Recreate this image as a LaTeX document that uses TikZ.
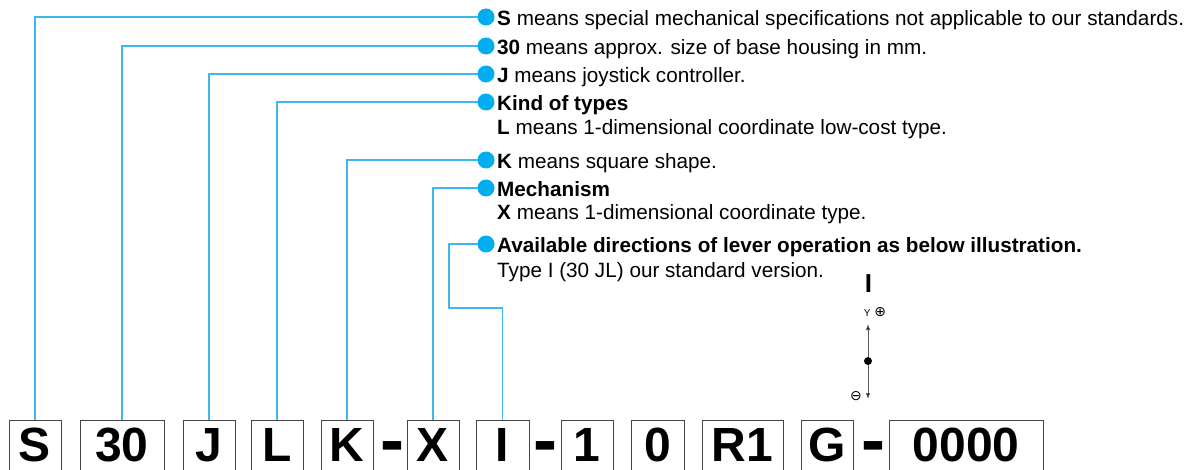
\documentclass[tikz,border=0pt]{standalone}
\usepackage{fontspec}
\setmainfont{Liberation Sans}
\newfontfamily\symfont{DejaVu Sans}
\usetikzlibrary{arrows.meta}
\definecolor{dotblue}{HTML}{00AEEF}
\definecolor{lineblue}{HTML}{3DB7EE}
\definecolor{boxgray}{HTML}{444444}
\begin{document}
\begin{tikzpicture}[x=1pt,y=-1pt,
  codebox/.style={draw=boxgray, line width=0.9pt, minimum height=50pt, inner sep=0pt, anchor=north,
    font=\fontsize{48}{50}\selectfont\bfseries},
  dashtxt/.style={inner sep=0pt, anchor=base, font=\fontsize{72}{74}\selectfont\bfseries},
  dot/.style={circle, fill=dotblue, minimum size=17pt, inner sep=0pt},
  conn/.style={draw=lineblue, line width=1.2pt},
  txt/.style={anchor=base west, inner sep=0pt, font=\fontsize{20.7}{23}\selectfont},
  axis/.style={draw=black!65, line width=0.8pt, -{Latex[length=6pt,width=4.5pt,fill=black]}}
]
\useasboundingbox (0,0) rectangle (1190,470);
\clip (0,-2) rectangle (1190,469.4);

% code boxes
\node[codebox, minimum width=52pt] (bS) at (35,420) {S};
\node[codebox, minimum width=84pt] (b30) at (122,420) {30};
\node[codebox, minimum width=52pt] (bJ) at (209,420) {J};
\node[codebox, minimum width=52pt] (bL) at (277,420) {L};
\node[codebox, minimum width=52pt] (bK) at (347,420) {K};
\node[dashtxt] (h1) at (392,464) {-};
\node[codebox, minimum width=52pt] (bX) at (433,420) {X};
\node[codebox, minimum width=53pt] (bI) at (502.5,420) {I};
\node[dashtxt] (h2) at (545,464) {-};
\node[codebox, minimum width=52pt] (b1) at (587,420) {1};
\node[codebox, minimum width=53pt] (b0) at (657.5,420) {0};
\node[codebox, minimum width=81pt] (bR) at (742.5,420) {R1};
\node[codebox, minimum width=52pt] (bG) at (827,420) {G};
\node[dashtxt] (h3) at (873,464) {-};
\node[codebox, minimum width=154pt] (b4) at (966,420) {0000};

% dot positions
\coordinate (dSc) at (486,17);
\coordinate (d30c) at (486,46);
\coordinate (dJc) at (486,74);
\coordinate (dLc) at (486,102);
\coordinate (dKc) at (486,160);
\coordinate (dXc) at (486,188);
\coordinate (dAc) at (486,244);
\coordinate (iturn) at (449,308);

% connectors
\draw[conn] (bS.north) |- (dSc);
\draw[conn] (b30.north) |- (d30c);
\draw[conn] (bJ.north) |- (dJc);
\draw[conn] (bL.north) |- (dLc);
\draw[conn] (bK.north) |- (dKc);
\draw[conn] (bX.north) |- (dXc);
\draw[conn] (bI.north) |- (iturn) |- (dAc);

\node[dot] (dS) at (dSc) {};
\node[dot] (d30) at (d30c) {};
\node[dot] (dJ) at (dJc) {};
\node[dot] (dL) at (dLc) {};
\node[dot] (dK) at (dKc) {};
\node[dot] (dX) at (dXc) {};
\node[dot] (dA) at (dAc) {};

% legend texts
\node[txt] (tS) at (497,25.5) {\textbf{S} means special mechanical specifications not applicable to our standards.};
\node[txt] (t30) at (497,54.5) {\textbf{30} means approx. size of base housing in mm.};
\node[txt] (tJ) at (497,82.5) {\textbf{J} means joystick controller.};
\node[txt] (tL1) at (497,110.5) {\textbf{Kind of types}};
\node[txt] (tL2) at (497,134.5) {\textbf{L} means 1-dimensional coordinate low-cost type.};
\node[txt] (tK) at (497,168.5) {\textbf{K} means square shape.};
\node[txt] (tX1) at (497,196.5) {\textbf{Mechanism}};
\node[txt] (tX2) at (497,219.5) {\textbf{X} means 1-dimensional coordinate type.};
\node[txt] (tA1) at (497,252.5) {\textbf{Available directions of lever operation as below illustration.}};
\node[txt] (tA2) at (497,277.5) {Type I (30 JL) our standard version.};

% lever illustration
\node[inner sep=0pt, anchor=base, font=\fontsize{26}{28}\selectfont\bfseries] (tI) at (868.5,292) {I};
\node[inner sep=0pt, anchor=base, font=\fontsize{10}{12}\selectfont] (yp) at (875,316) {Y\hspace{4pt}{\symfont\fontsize{14}{14}\selectfont ⊕}};
\node[inner sep=0pt, anchor=base, font=\symfont\fontsize{14}{14}\selectfont] (ym) at (856,400) {⊖};
\node[circle, fill=black, minimum size=8pt, inner sep=0pt] (ctr) at (868,361) {};
\coordinate (up) at (868,324);
\coordinate (dn) at (868,399);
\draw[axis] (ctr) -- (up);
\draw[axis] (ctr) -- (dn);
\end{tikzpicture}
\end{document}
